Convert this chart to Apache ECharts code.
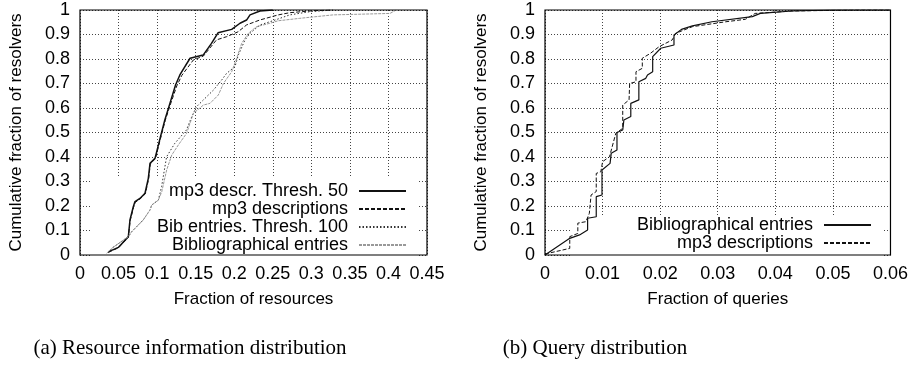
<!DOCTYPE html>
<html><head><meta charset="utf-8">
<script src="https://cdn.jsdelivr.net/npm/echarts@6/dist/echarts.min.js"></script>
<style>html,body{margin:0;padding:0;background:#fff}#c{width:911px;height:374px}</style>
</head><body><div id="c"></div>
<script>
// ---- data ----
const leftXTicks = [0,0.05,0.1,0.15,0.2,0.25,0.3,0.35,0.4,0.45];
const rightXTicks = [0,0.01,0.02,0.03,0.04,0.05,0.06];
const yTicks = [0,0.1,0.2,0.3,0.4,0.5,0.6,0.7,0.8,0.9,1];

const mp3Thresh50 = [[0.0367,0.013],[0.0497,0.031],[0.0627,0.075],[0.0648,0.143],[0.0691,0.197],[0.0713,0.218],
 [0.0777,0.231],[0.0843,0.252],[0.0886,0.313],[0.0908,0.374],[0.0973,0.395],[0.0995,0.422],[0.1038,0.476],
 [0.110,0.551],[0.1166,0.619],[0.1239,0.694],[0.1295,0.735],[0.1427,0.803],[0.1597,0.816],[0.1705,0.864],
 [0.179,0.907],[0.1967,0.921],[0.2075,0.946],[0.216,0.959],[0.2205,0.98],[0.2334,0.996],[0.25,1.0]];
const mp3Desc = [[0.0367,0.011],[0.0497,0.029],[0.0627,0.072],[0.0650,0.140],[0.0695,0.195],[0.0718,0.215],
 [0.0780,0.229],[0.0848,0.250],[0.0890,0.311],[0.0912,0.372],[0.0978,0.393],[0.1000,0.420],[0.1043,0.474],
 [0.1105,0.549],[0.1175,0.617],[0.1255,0.690],[0.1320,0.733],[0.1470,0.796],[0.160,0.812],[0.177,0.878],
 [0.19,0.891],[0.205,0.911],[0.216,0.939],[0.233,0.959],[0.257,0.98],[0.272,0.989],[0.302,0.997],[0.328,1.0]];
const bibThresh100 = [[0.0367,0.008],[0.041,0.027],[0.0627,0.075],[0.067,0.095],[0.082,0.143],[0.0908,0.184],
 [0.093,0.204],[0.1016,0.224],[0.1058,0.279],[0.1123,0.401],[0.123,0.456],[0.138,0.51],[0.145,0.565],
 [0.151,0.605],[0.16,0.633],[0.173,0.673],[0.1837,0.714],[0.190,0.741],[0.201,0.769],[0.2053,0.816],
 [0.214,0.878],[0.2205,0.905],[0.2334,0.939],[0.2529,0.959],[0.272,0.98],[0.298,0.993],[0.328,1.0]];
const bibEntries = [[0.0345,0.007],[0.041,0.027],[0.0627,0.075],[0.067,0.095],[0.082,0.143],[0.0908,0.184],
 [0.093,0.204],[0.1016,0.224],[0.106,0.258],[0.1124,0.347],[0.119,0.408],[0.1275,0.449],[0.1383,0.497],
 [0.147,0.578],[0.16,0.612],[0.1686,0.619],[0.1794,0.653],[0.186,0.70],[0.1967,0.748],[0.2032,0.803],
 [0.2097,0.864],[0.2183,0.905],[0.229,0.932],[0.2464,0.946],[0.257,0.956],[0.285,0.966],[0.328,0.98],
 [0.402,0.986],[0.41,1.0]];

const queryBib = [[0,0],[0.0043,0.068],[0.006,0.082],[0.0074,0.102],[0.0074,0.15],[0.0089,0.156],[0.0089,0.238],
 [0.0099,0.245],[0.0099,0.347],[0.0113,0.374],[0.0115,0.415],[0.0125,0.429],[0.0125,0.5],[0.0135,0.51],
 [0.0137,0.551],[0.0149,0.565],[0.0149,0.619],[0.0163,0.633],[0.0163,0.707],[0.0175,0.721],[0.0178,0.735],
 [0.0187,0.748],[0.0187,0.81],[0.0201,0.844],[0.0224,0.857],[0.0224,0.898],[0.0237,0.921],[0.0256,0.935],
 [0.029,0.952],[0.036,0.973],[0.0374,0.986],[0.0429,0.996],[0.05,1.0],[0.06,1.0]];
const queryMp3 = [[0,0.004],[0.0043,0.027],[0.0043,0.075],[0.0057,0.088],[0.0057,0.13],[0.0071,0.136],
 [0.0077,0.17],[0.008,0.245],[0.0089,0.259],[0.0089,0.333],[0.0097,0.34],[0.010,0.381],[0.0112,0.401],
 [0.0123,0.497],[0.0135,0.517],[0.0135,0.612],[0.0146,0.633],[0.0147,0.70],[0.0158,0.707],[0.0158,0.748],
 [0.0169,0.762],[0.0169,0.803],[0.0183,0.823],[0.0198,0.85],[0.0221,0.878],[0.0227,0.905],[0.0256,0.932],
 [0.0314,0.952],[0.0348,0.962],[0.0365,0.986],[0.0429,0.996],[0.0544,1.0],[0.06,1.0]];

// ---- chart ----
const FONT = 'Liberation Sans';
const chart = echarts.init(document.getElementById('c'), null, {renderer:'canvas'});
function xAxis(idx, max, interval, name){
  return {type:'value', gridIndex:idx, min:0, max:max, interval:interval,
    name:name, nameLocation:'middle', nameGap:36,
    nameTextStyle:{fontFamily:FONT, fontSize:17, color:'#000'},
    axisLine:{show:false}, axisTick:{show:false},
    axisLabel:{fontFamily:FONT, fontSize:18, color:'#000', margin:10, showMinLabel:true, showMaxLabel:true},
    splitLine:{show:true, lineStyle:{color:'#444', type:[1,2], width:1}}};
}
function yAxis(idx){
  return {type:'value', gridIndex:idx, min:0, max:1, interval:0.1,
    name:'Cumulative fraction of resolvers', nameLocation:'middle', nameGap:55,
    nameTextStyle:{fontFamily:FONT, fontSize:17, color:'#000'},
    axisLine:{show:false}, axisTick:{show:false},
    axisLabel:{fontFamily:FONT, fontSize:18, color:'#000', margin:10, showMinLabel:true, showMaxLabel:true},
    splitLine:{show:true, lineStyle:{color:'#444', type:[1,2], width:1}}};
}
function legend(names, left, top, textW, padT, bottomPad){
  return {show:true, orient:'vertical', left:left, top:top, align:'right', z:1,
    backgroundColor:'#fff', padding:[padT,11,bottomPad,5], itemGap:0, itemWidth:47, itemHeight:14,
    data:names, itemStyle:{opacity:0, borderWidth:0},
    formatter: n => '{t|'+n.trim()+'}',
    textStyle:{fontFamily:FONT, fontSize:18, color:'#000',
      rich:{t:{width:textW, align:'right', padding:[0,6,0,0], fontFamily:FONT, fontSize:18, lineHeight:17.4, color:'#000'}}}};
}
function line(name, data, idx, color, width, type){
  return {type:'line', name:name, data:data, xAxisIndex:idx, yAxisIndex:idx, symbol:'none',
    showSymbol:false, animation:false, lineStyle:{color:color, width:width, type:type}, itemStyle:{color:color}, z:2};
}
chart.setOption({
  animation:false,
  grid:[
    {left:80, top:10, width:347, height:245, show:true, borderColor:'#000', borderWidth:1.2, backgroundColor:'transparent', z:3},
    {left:545, top:10, width:347, height:245, show:true, borderColor:'#000', borderWidth:1.2, backgroundColor:'transparent', z:3}
  ],
  xAxis:[xAxis(0,0.45,0.05,'Fraction of resources'), xAxis(1,0.06,0.01,'Fraction of queries')],
  yAxis:[yAxis(0), yAxis(1)],
  legend:[
    legend(['mp3 descr. Thresh. 50','mp3 descriptions','Bib entries. Thresh. 100','Bibliographical entries'], 92, 178, 251, 4, 3),
    legend(['Bibliographical entries ','mp3 descriptions '], 570, 215, 238, 1, 4)
  ],
  series:[
    line('mp3 descr. Thresh. 50', mp3Thresh50, 0, '#111', 1.5, 'solid'),
    line('mp3 descriptions', mp3Desc, 0, '#111', 1, [4,2]),
    line('Bib entries. Thresh. 100', bibThresh100, 0, '#333', 1, [1.5,2]),
    line('Bibliographical entries', bibEntries, 0, '#999', 1, [3,1]),
    line('Bibliographical entries ', queryBib, 1, '#111', 1.2, 'solid'),
    line('mp3 descriptions ', queryMp3, 1, '#111', 1, [4,2])
  ],
  graphic:[
    {type:'text', x:190, y:348, style:{text:'(a) Resource information distribution', fontFamily:'Liberation Serif', fontSize:21, fill:'#000', textAlign:'center', textVerticalAlign:'middle'}},
    {type:'text', x:595, y:348, style:{text:'(b) Query distribution', fontFamily:'Liberation Serif', fontSize:21, fill:'#000', textAlign:'center', textVerticalAlign:'middle'}}
  ]
});
</script></body></html>
